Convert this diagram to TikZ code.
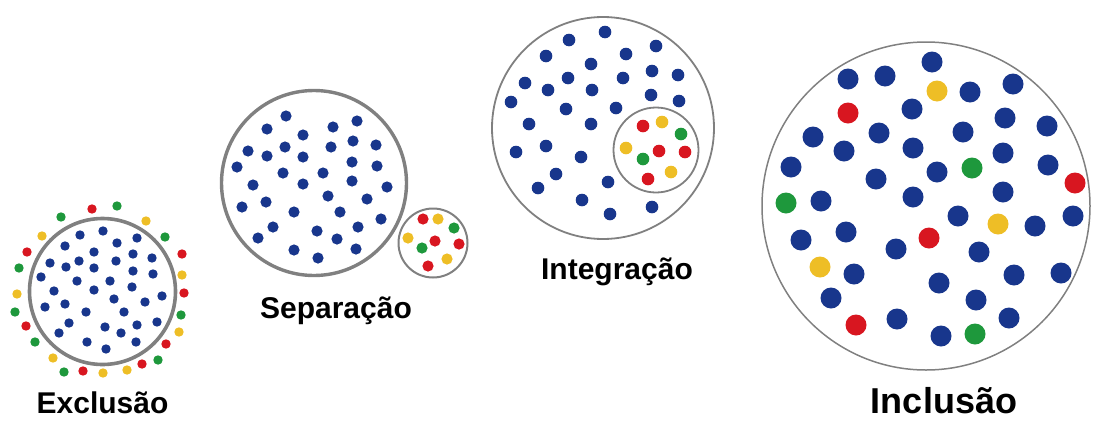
\documentclass[tikz,border=0pt]{standalone}
\usepackage{fontspec}
\setmainfont{Liberation Sans}
\definecolor{bleu}{RGB}{24,54,140}
\definecolor{rouge}{RGB}{216,22,32}
\definecolor{jaune}{RGB}{238,190,38}
\definecolor{vert}{RGB}{30,152,60}
\definecolor{gris}{RGB}{128,128,128}
\begin{document}
\begin{tikzpicture}[x=1pt,y=-1pt]
	\tikzstyle{anneau}=[draw=gris]
	\tikzstyle{titre}=[anchor=base,inner sep=0pt,font=\bfseries\fontsize{30}{36}\selectfont]
	\def\RayonA{4.7pt}\def\RayonB{5.6pt}\def\RayonC{6.3pt}\def\RayonD{10.5pt}
	\useasboundingbox (0,0) rectangle (1093,421);
	%
	% Exclusao
	\draw[anneau,line width=3.6pt] (102.5,291.5) circle (73pt);
	\foreach \x/\y in {80/235,103/231,65/246,117/243,137/238,94/252,50/263,79/261,116/261,133/254,152/258,66/267,94/268,41/277,77/281,110/281,133/271,153/274,54/291,94/290,132/287,114/299,145/302,162/296,45/307,65/304,86/312,124/312,69/323,105/327,137/325,157/322,59/333,121/333,87/342,106/349,136/342}
		\fill[bleu] (\x,\y) circle (\RayonA);
	\foreach \x/\y/\c in {92/209/rouge,117/206/vert,61/217/vert,146/221/jaune,42/236/jaune,165/237/vert,27/252/rouge,182/254/rouge,19/268/vert,182/275/jaune,17/294/jaune,184/293/rouge,15/312/vert,181/315/vert,26/326/rouge,179/332/jaune,35/342/vert,166/344/rouge,53/358/jaune,158/360/vert,64/372/vert,83/371/rouge,103/373/jaune,127/370/jaune,142/364/rouge}
		\fill[\c] (\x,\y) circle (\RayonA);
	\node[titre] (exclusao) at (102.5,413) {Exclusão};
	%
	% Separacao
	\draw[anneau,line width=3.4pt] (314,183) circle (92.5pt);
	\foreach \x/\y in {286/116,267/129,333/127,357/121,303/135,248/151,285/147,331/147,353/141,376/145,267/156,303/157,237/167,352/162,377/166,283/173,323/173,253/185,303/184,352/181,387/187,328/196,367/199,242/207,266/202,294/212,340/212,381/219,273/227,317/231,358/227,258/238,337/239,294/250,356/249,318/258}
		\fill[bleu] (\x,\y) circle (\RayonB);
	\draw[anneau,line width=2pt] (433,243) circle (34.5pt);
	\foreach \x/\y/\c in {423/219/rouge,438/219/jaune,454/228/vert,408/238/jaune,435/241/rouge,459/244/rouge,422/248/vert,447/259/jaune,428/266/rouge}
		\fill[\c] (\x,\y) circle (\RayonB);
	\node[titre] (separacao) at (336,318) {Separação};
	%
	% Integracao
	\draw[anneau,line width=1.8pt] (603,128) circle (111pt);
	\foreach \x/\y in {605/32,569/40,656/46,546/56,626/54,591/64,525/83,568/78,623/78,652/71,678/75,548/90,592/90,651/95,679/101,511/102,566/109,616/108,529/124,591/124,516/152,546/146,581/157,556/174,538/188,608/182,582/200,610/214,652/207}
		\fill[bleu] (\x,\y) circle (\RayonC);
	\draw[anneau,line width=1.8pt] (656,150) circle (42.5pt);
	\foreach \x/\y/\c in {643/126/rouge,662/122/jaune,681/134/vert,626/148/jaune,659/151/rouge,685/152/rouge,643/159/vert,671/172/jaune,648/179/rouge}
		\fill[\c] (\x,\y) circle (\RayonC);
	\node[titre] (integracao) at (617,279) {Integração};
	%
	% Inclusao
	\draw[anneau,line width=1.5pt] (926,206) circle (164pt);
	\foreach \x/\y/\c in {932/62/bleu,848/79/bleu,885/76/bleu,937/91/jaune,970/92/bleu,1013/84/bleu,848/113/rouge,912/109/bleu,1005/118/bleu,1047/126/bleu,813/137/bleu,879/133/bleu,963/132/bleu,844/151/bleu,913/148/bleu,1003/153/bleu,791/167/bleu,972/168/vert,1048/165/bleu,876/179/bleu,937/172/bleu,1075/183/rouge,786/203/vert,821/201/bleu,913/197/bleu,1003/192/bleu,958/216/bleu,998/224/jaune,1035/226/bleu,1073/216/bleu,801/240/bleu,846/232/bleu,929/238/rouge,896/249/bleu,979/252/bleu,820/267/jaune,854/274/bleu,939/283/bleu,1014/275/bleu,1061/273/bleu,831/298/bleu,976/300/bleu,856/325/rouge,897/319/bleu,941/336/bleu,975/334/vert,1009/318/bleu}
		\fill[\c] (\x,\y) circle (\RayonD);
	\node[titre,font=\bfseries\fontsize{36}{43}\selectfont] (inclusao) at (944,413) {Inclusão};
\end{tikzpicture}
\end{document}
